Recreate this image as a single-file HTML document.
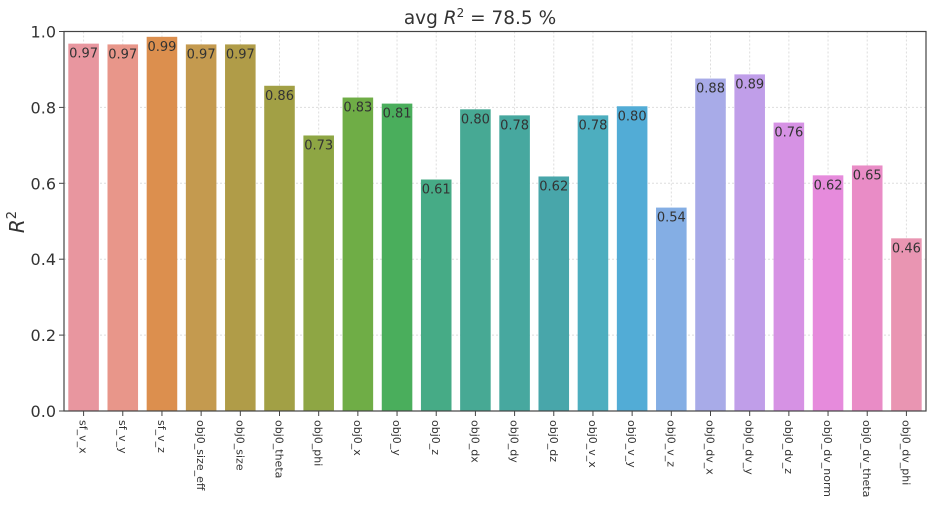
<!DOCTYPE html>
<html><head><meta charset="utf-8"><style>
body{margin:0;background:#fff;}
svg text{font-family:"DejaVu Sans","Liberation Sans",sans-serif;fill:#333;}
</style></head><body>
<svg id="chart" width="930" height="503" xmlns="http://www.w3.org/2000/svg">
<text x="480" y="24" text-anchor="middle" font-size="18.5">avg <tspan font-style="italic">R</tspan><tspan font-size="12" dy="-7">2</tspan><tspan dy="7"> = 78.5 %</tspan></text>
<text transform="translate(24,222) rotate(-90)" text-anchor="middle" font-size="20"><tspan font-style="italic">R</tspan><tspan font-size="13" dy="-8">2</tspan></text>
<g id="grid"></g><g id="bars"></g><g id="labels"></g><g id="ticks"></g>
<rect x="64" y="31.5" width="862" height="379.5" fill="none" stroke="#444" stroke-width="1.2"/>
</svg>
<script>
const categories=["sf_v_x","sf_v_y","sf_v_z","obj0_size_eff","obj0_size","obj0_theta","obj0_phi","obj0_x","obj0_y","obj0_z","obj0_dx","obj0_dy","obj0_dz","obj0_v_x","obj0_v_y","obj0_v_z","obj0_dv_x","obj0_dv_y","obj0_dv_z","obj0_dv_norm","obj0_dv_theta","obj0_dv_phi"];
const values=[0.968,0.966,0.986,0.966,0.966,0.857,0.726,0.826,0.81,0.61,0.795,0.779,0.618,0.779,0.803,0.536,0.876,0.887,0.76,0.621,0.647,0.455];
const colors=["#e8969f","#e8968a","#dc8f4e","#c49a4f","#b09c48","#a2a045","#8ea644","#6fad46","#4aae5c","#46ab86","#47a994","#47a89f","#48a6aa","#4daebf","#52acd6","#84aee4","#a8abe8","#c09ee9","#d692e4","#e68bdc","#e98cc6","#e995b2"];
const yTicks=[0,0.2,0.4,0.6,0.8,1.0];
const X0=64,X1=926,Y0=411,Y1=31.5;
const slot=(X1-X0)/categories.length;
const y=v=>Y0-(Y0-Y1)*v;
const xc=i=>X0+slot*(i+0.5);
const NS="http://www.w3.org/2000/svg";
const mk=(t,a,p)=>{const e=document.createElementNS(NS,t);for(const k in a)e.setAttribute(k,a[k]);p.appendChild(e);return e;};
const G=document.getElementById('grid'),B=document.getElementById('bars'),L=document.getElementById('labels'),T=document.getElementById('ticks');
yTicks.forEach(v=>{
 const gl=mk('line',{x1:X0,x2:X1,y1:y(v),y2:y(v),stroke:'#ddd','stroke-dasharray':'2,2'},G);
 
 
 const tk=mk('line',{x1:X0-5,x2:X0,y1:y(v),y2:y(v),stroke:'#444'},T);
 
 
 const tl=mk('text',{x:X0-8,y:y(v)+6,'text-anchor':'end','font-size':'16'},T);
 tl.textContent=v.toFixed(1);
 
 
});
categories.forEach((c,i)=>{
 const gl=mk('line',{x1:xc(i),x2:xc(i),y1:Y1,y2:Y0,stroke:'#ddd','stroke-dasharray':'2,2'},G);
 
 
 const w=slot*0.78;
 const r=mk('rect',{x:xc(i)-w/2,y:y(values[i]),width:w,height:Y0-y(values[i]),fill:colors[i]},B);
 
 
 const t=mk('text',{x:xc(i),y:y(values[i])+14,'text-anchor':'middle','font-size':'13'},L);
 t.textContent=values[i].toFixed(2);
 
 
 const tk=mk('line',{x1:xc(i),x2:xc(i),y1:Y0,y2:Y0+5,stroke:'#444'},T);
 
 
 const xl=mk('text',{transform:`translate(${xc(i)-4},${Y0+9}) rotate(90)`,'font-size':'11'},T);
 xl.textContent=c;
 
 
});
</script>
</body></html>
